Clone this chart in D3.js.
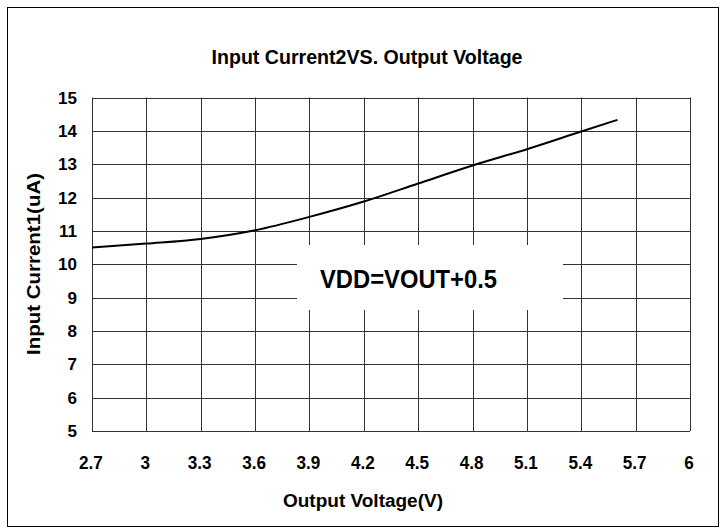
<!DOCTYPE html>
<html><head><meta charset="utf-8">
<script src="https://cdn.jsdelivr.net/npm/d3@7/dist/d3.min.js"></script>
<style>body{margin:0;background:#fff}svg{display:block}</style>
</head><body>
<svg id="c" width="726" height="529"></svg>
<script>
const xTicks = [2.7, 3, 3.3, 3.6, 3.9, 4.2, 4.5, 4.8, 5.1, 5.4, 5.7, 6];
const xTickLabels = ["2.7","3","3.3","3.6","3.9","4.2","4.5","4.8","5.1","5.4","5.7","6"];
const yTicks = [5,6,7,8,9,10,11,12,13,14,15];
const vout = [2.7, 3.0, 3.3, 3.6, 3.9, 4.2, 4.5, 4.8, 5.1, 5.4, 5.6];
const current = [10.5, 10.62, 10.76, 11.02, 11.42, 11.88, 12.42, 12.96, 13.45, 13.98, 14.33];
const title = "Input Current2VS. Output Voltage";
const xTitle = "Output Voltage(V)";
const yTitle = "Input Current1(uA)";
const note = "VDD=VOUT+0.5";

const svg = d3.select("#c");
const font = "'Liberation Sans',Arial,sans-serif";
const L = 92, R = 690, T = 97.5, B = 431;
const x = d3.scaleLinear().domain([2.7, 6]).range([L, R]);
const y = d3.scaleLinear().domain([5, 15]).range([B, T]);

function squeeze(sel, f) {
  sel.each(function() {
    const w = this.getComputedTextLength();
    d3.select(this).attr("textLength", w * f).attr("lengthAdjust", "spacingAndGlyphs");
  });
}

svg.append("rect").attr("x", 7.5).attr("y", 7.5).attr("width", 711).attr("height", 519)
  .attr("fill", "#fff").attr("stroke", "#000").attr("stroke-width", 1);

svg.append("text").attr("x", 367).attr("y", 64).attr("text-anchor", "middle")
  .attr("font-family", font).attr("font-weight", "bold").attr("font-size", 20)
  .attr("textLength", 311).attr("lengthAdjust", "spacingAndGlyphs")
  .text(title);

const g = svg.append("g");
g.selectAll(".vg").data(xTicks).join("line")
  .attr("x1", d => Math.round(x(d)) + 0.5).attr("x2", d => Math.round(x(d)) + 0.5)
  .attr("y1", T).attr("y2", B).attr("stroke", "#333").attr("stroke-width", 1);
g.selectAll(".hg").data(yTicks).join("line")
  .attr("x1", L).attr("x2", R)
  .attr("y1", d => Math.round(y(d)) + 0.5).attr("y2", d => Math.round(y(d)) + 0.5)
  .attr("stroke", "#333").attr("stroke-width", 1);

svg.selectAll(".xl").data(xTicks).join("text")
  .attr("x", d => x(d) - 1).attr("y", 469).attr("text-anchor", "middle")
  .attr("font-family", font).attr("font-weight", "bold").attr("font-size", 19)
  .text((d, i) => xTickLabels[i])
  .call(squeeze, 0.9);
svg.selectAll(".yl").data(yTicks).join("text")
  .attr("x", 77).attr("y", d => y(d) + 6).attr("text-anchor", "end")
  .attr("font-family", font).attr("font-weight", "bold").attr("font-size", 17)
  .text(d => d);

svg.append("text").attr("x", 363).attr("y", 507).attr("text-anchor", "middle")
  .attr("font-family", font).attr("font-weight", "bold").attr("font-size", 18)
  .attr("textLength", 160).attr("lengthAdjust", "spacingAndGlyphs")
  .text(xTitle);
svg.append("text").attr("transform", "translate(40,264) rotate(-90)").attr("text-anchor", "middle")
  .attr("font-family", font).attr("font-weight", "bold").attr("font-size", 18)
  .attr("textLength", 182).attr("lengthAdjust", "spacingAndGlyphs")
  .text(yTitle);

svg.append("rect").attr("x", 297).attr("y", 245).attr("width", 266).attr("height", 65).attr("fill", "#fff");
svg.append("text").attr("x", 408.5).attr("y", 288).attr("text-anchor", "middle")
  .attr("font-family", font).attr("font-weight", "bold").attr("font-size", 25)
  .attr("textLength", 177).attr("lengthAdjust", "spacingAndGlyphs")
  .text(note);

const line = d3.line().x(d => x(d[0])).y(d => y(d[1])).curve(d3.curveMonotoneX);
svg.append("path").datum(vout.map((v, i) => [v, current[i]]))
  .attr("d", line).attr("fill", "none").attr("stroke", "#000").attr("stroke-width", 2);
</script>
</body></html>
